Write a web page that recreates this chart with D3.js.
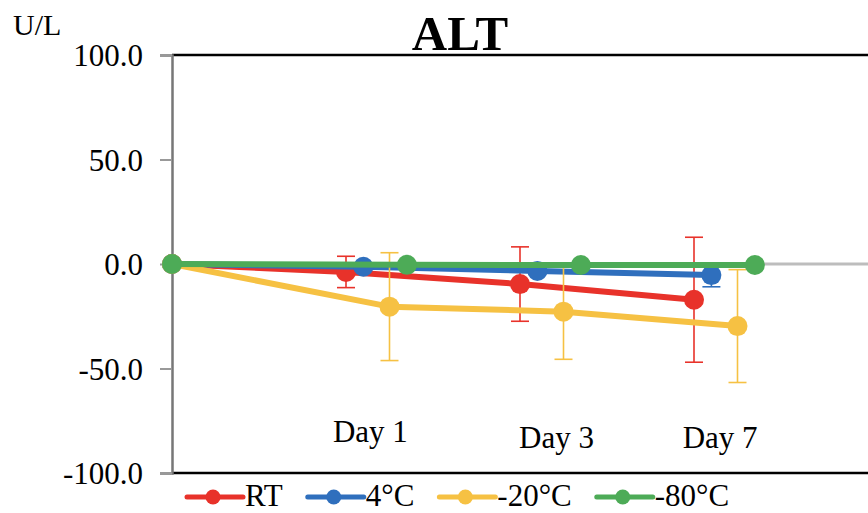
<!DOCTYPE html>
<html>
<head>
<meta charset="utf-8">
<script src="https://cdn.jsdelivr.net/npm/d3@7"></script>
<style>
  html, body { margin: 0; padding: 0; background: #fff; }
  svg { display: block; font-family: "Liberation Serif", "Times New Roman", serif; }
</style>
</head>
<body>
<svg id="chart" width="868" height="513"></svg>
<script>
// ---- data ----
const days = ["Day 1", "Day 3", "Day 7"];
const seriesNames = ["RT", "4°C", "-20°C", "-80°C"];
const seriesColors = ["#e8322a", "#2f6fbd", "#f6c143", "#4dab57"];
// x position (day index + series offset), start point at 0
const xRT   = [0, 1.00, 2.00, 3.00];
const x4    = [0, 1.10, 2.10, 3.10];
const x20   = [0, 1.25, 2.25, 3.25];
const x80   = [0, 1.35, 2.35, 3.35];
const yRT   = [0, -3.8, -9.6, -17.1];
const y4    = [0, -1.3, -3.3, -5.3];
const y20   = [0, -20.4, -22.8, -29.7];
const y80   = [0, -0.4, -0.5, -0.5];
const eRT   = [0, 7.5, 17.8, 29.9];
const e4    = [0, 1.0, 1.5, 5.6];
const e20   = [0, 25.8, 22.8, 27.0];
const e80   = [0, 0, 0, 0];
const yTicks = [-100, -50, 0, 50, 100];
const yUnit = "U/L";
const title = "ALT";

const series = [
  {name: seriesNames[0], color: seriesColors[0], x: xRT, y: yRT, e: eRT},
  {name: seriesNames[1], color: seriesColors[1], x: x4,  y: y4,  e: e4},
  {name: seriesNames[2], color: seriesColors[2], x: x20, y: y20, e: e20},
  {name: seriesNames[3], color: seriesColors[3], x: x80, y: y80, e: e80}
];

// ---- layout ----
const L = {left: 172, right: 868, top: 55, bottom: 473};
const dayLabelPos = [{x: 1.14, y: -85.2}, {x: 2.21, y: -88.0}, {x: 3.15, y: -88.0}];

const svg = d3.select("#chart");
const x = d3.scaleLinear().domain([0, 4]).range([L.left, L.right]);
const y = d3.scaleLinear().domain([-100, 100]).range([L.bottom, L.top]);
const fmt = v => d3.format(".1f")(v).replace("−", "-");

// zero line
svg.append("line")
  .attr("x1", x(0)).attr("x2", x(4) + 2)
  .attr("y1", y(0)).attr("y2", y(0))
  .attr("stroke", "#bdbdbd").attr("stroke-width", 3);

// plot frame (top/bottom black)
svg.append("line").attr("x1", L.left).attr("x2", 870).attr("y1", L.top).attr("y2", L.top)
  .attr("stroke", "#000").attr("stroke-width", 2.5);
svg.append("line").attr("x1", L.left).attr("x2", 870).attr("y1", L.bottom).attr("y2", L.bottom)
  .attr("stroke", "#000").attr("stroke-width", 2.5);

// y axis
const yAxis = d3.axisLeft(y).tickValues(yTicks).tickFormat(fmt).tickSize(12).tickPadding(17);
const ga = svg.append("g").attr("transform", `translate(${L.left},0)`).call(yAxis)
  .attr("font-family", "'Liberation Serif', serif");
ga.select(".domain").attr("stroke", "#777").attr("stroke-width", 2.5);
ga.selectAll(".tick line").attr("stroke", "#999").attr("stroke-width", 2);
ga.selectAll(".tick text").attr("fill", "#000").style("font-size", "31px")
  .style("font-family", "'Liberation Serif', serif").attr("dy", "0.34em");

// unit and title
svg.append("text").attr("x", 13).attr("y", 35).text(yUnit)
  .style("font-size", "30px").attr("fill", "#000");
svg.append("text").attr("x", 460).attr("y", 50).attr("text-anchor", "middle")
  .text(title).style("font-size", "49px").style("font-weight", "bold").attr("fill", "#000");

// day labels
svg.selectAll(".day").data(days).enter().append("text")
  .attr("class", "day")
  .attr("x", (d, i) => x(dayLabelPos[i].x))
  .attr("y", (d, i) => y(dayLabelPos[i].y))
  .attr("text-anchor", "middle")
  .style("font-size", "31px").attr("fill", "#000")
  .text(d => d);

// series
const line = d3.line().x(d => x(d.x)).y(d => y(d.y));
series.forEach(s => {
  const pts = s.x.map((xv, i) => ({x: xv, y: s.y[i], e: s.e[i]}));
  const g = svg.append("g");
  // error bars
  pts.filter(p => p.e > 0).forEach(p => {
    const cx = x(p.x), y1 = y(p.y + p.e), y2 = y(p.y - p.e);
    g.append("line").attr("x1", cx).attr("x2", cx).attr("y1", y1).attr("y2", y2)
      .attr("stroke", s.color).attr("stroke-width", 1.6);
    [y1, y2].forEach(yy => g.append("line")
      .attr("x1", cx - 9).attr("x2", cx + 9).attr("y1", yy).attr("y2", yy)
      .attr("stroke", s.color).attr("stroke-width", 1.6));
  });
  g.append("path").datum(pts).attr("d", line)
    .attr("fill", "none").attr("stroke", s.color).attr("stroke-width", 6)
    .attr("stroke-linejoin", "round");
  g.selectAll("circle").data(pts).enter().append("circle")
    .attr("cx", d => x(d.x)).attr("cy", d => y(d.y)).attr("r", 10)
    .attr("fill", s.color);
});

// legend
const lg = svg.append("g").attr("transform", "translate(187,497)");
let cursor = 0;
series.forEach(s => {
  const item = lg.append("g").attr("transform", `translate(${cursor},0)`);
  item.append("line").attr("x1", 0).attr("x2", 56).attr("y1", 0).attr("y2", 0)
    .attr("stroke", s.color).attr("stroke-width", 5).attr("stroke-linecap", "round");
  item.append("circle").attr("cx", 26).attr("cy", 0).attr("r", 7.5).attr("fill", s.color);
  const t = item.append("text").attr("x", 58).attr("y", 9).text(s.name)
    .style("font-size", "31px").attr("fill", "#000");
  cursor += 58 + t.node().getComputedTextLength() + 25;
});
</script>
</body>
</html>
